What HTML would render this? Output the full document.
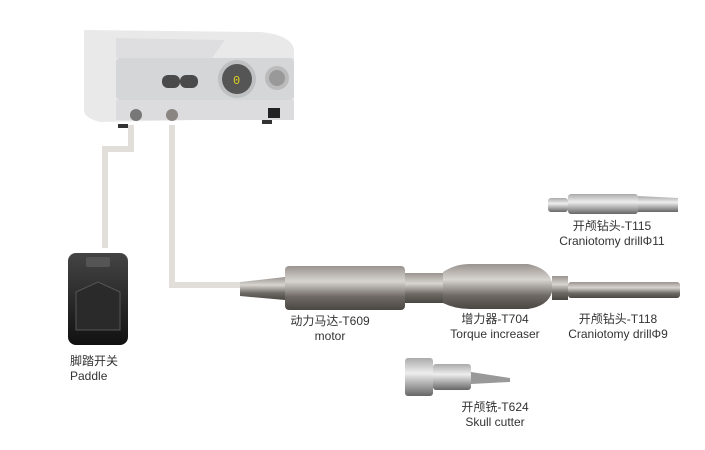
<!DOCTYPE html>
<html><head><meta charset="utf-8"><style>
body{margin:0;width:705px;height:450px;background:#fff;position:relative;overflow:hidden;font-family:"Liberation Sans","Noto Sans CJK SC",sans-serif;color:#333}
.t{position:absolute;font-size:12px;line-height:15px;text-align:center;white-space:nowrap}
</style></head><body>
<svg width="705" height="450" style="position:absolute;left:0;top:0">
<defs>
<linearGradient id="m" x1="0" y1="0" x2="0" y2="1"><stop offset="0" stop-color="#9a9490"/><stop offset=".35" stop-color="#d8d4d0"/><stop offset=".7" stop-color="#6e6964"/><stop offset="1" stop-color="#4a4642"/></linearGradient>
<linearGradient id="s" x1="0" y1="0" x2="0" y2="1"><stop offset="0" stop-color="#aaa"/><stop offset=".4" stop-color="#eee"/><stop offset="1" stop-color="#666"/></linearGradient>
<linearGradient id="p" x1="0" y1="0" x2="0" y2="1"><stop offset="0" stop-color="#444"/><stop offset="1" stop-color="#111"/></linearGradient>
</defs>
<!-- cables -->
<g stroke="#e2dfda" stroke-width="6" fill="none">
<polyline points="131,125 131,149 105,149 105,248"/>
<polyline points="172,125 172,285 240,285"/>
</g>
<!-- console -->
<path d="M84,30 L260,32 Q292,35 294,50 L294,118 L100,122 Q84,118 84,110 Z" fill="#e9e9ea"/>
<path d="M116,38 L225,40 L212,58 L116,58 Z" fill="#dedee0"/>
<rect x="116" y="58" width="178" height="42" rx="4" fill="#d5d6d8"/>
<rect x="116" y="100" width="178" height="20" fill="#dcdcde"/>
<rect x="162" y="75" width="18" height="13" rx="6" fill="#4a4a4a"/>
<rect x="180" y="75" width="18" height="13" rx="6" fill="#4a4a4a"/>
<circle cx="237" cy="79" r="19" fill="#bfc0c2"/><circle cx="237" cy="79" r="15" fill="#555"/>
<text x="233" y="84" font-size="12" fill="#e0d020" font-family="Liberation Mono">0</text>
<circle cx="277" cy="78" r="12" fill="#bbb"/><circle cx="277" cy="78" r="8" fill="#999"/>
<circle cx="136" cy="115" r="6" fill="#777"/><circle cx="172" cy="115" r="6" fill="#8a8580"/>
<rect x="268" y="108" width="12" height="10" fill="#222"/>
<rect x="118" y="124" width="10" height="4" fill="#333"/><rect x="262" y="120" width="10" height="4" fill="#333"/>
<!-- paddle -->
<rect x="68" y="253" width="60" height="92" rx="8" fill="url(#p)"/>
<rect x="86" y="257" width="24" height="10" rx="2" fill="#555"/>
<path d="M76,292 L98,282 L120,292 L120,330 L76,330 Z" fill="#2a2a2a" stroke="#555"/>
<!-- motor assembly -->
<path d="M240,282 L285,277 L285,300 L240,296 Z" fill="url(#m)"/>
<rect x="285" y="266" width="120" height="44" rx="4" fill="url(#m)"/>
<rect x="405" y="273" width="38" height="30" fill="url(#m)"/>
<path d="M443,272 Q455,264 470,264 L528,264 Q548,268 552,282 L552,292 Q548,306 528,309 L470,309 Q455,309 443,303 Z" fill="url(#m)"/>
<rect x="552" y="276" width="16" height="24" fill="url(#m)"/>
<rect x="568" y="282" width="112" height="16" rx="3" fill="url(#m)"/>
<!-- T115 -->
<rect x="548" y="198" width="20" height="14" rx="3" fill="url(#s)"/>
<rect x="568" y="194" width="70" height="20" rx="3" fill="url(#s)"/>
<path d="M638,196 L678,198 L678,212 L638,212 Z" fill="url(#s)"/>
<!-- skull cutter -->
<rect x="405" y="358" width="28" height="38" rx="3" fill="url(#s)"/>
<rect x="433" y="364" width="38" height="26" rx="3" fill="url(#s)"/>
<path d="M471,372 L510,378 L510,382 L471,384 Z" fill="#999"/>
</svg>
<div class="t" style="left:280px;top:314px;width:100px">动力马达-T609<br>motor</div>
<div class="t" style="left:440px;top:312px;width:110px">增力器-T704<br>Torque increaser</div>
<div class="t" style="left:560px;top:312px;width:116px">开颅钻头-T118<br>Craniotomy drillΦ9</div>
<div class="t" style="left:552px;top:219px;width:120px">开颅钻头-T115<br>Craniotomy drillΦ11</div>
<div class="t" style="left:70px;top:354px;text-align:left">脚踏开关<br>Paddle</div>
<div class="t" style="left:445px;top:400px;width:100px">开颅铣-T624<br>Skull cutter</div>
</body></html>
